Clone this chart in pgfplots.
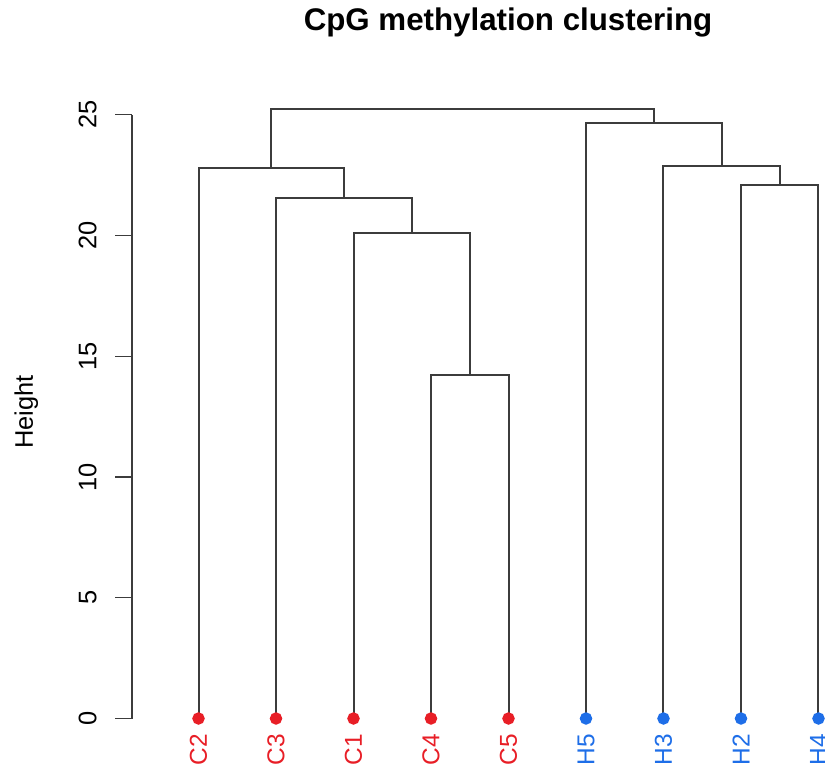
\documentclass[border=0pt]{standalone}
\usepackage{pgfplots}
\pgfplotsset{compat=1.18}
\usepackage{fontspec}
\setmainfont{Liberation Sans}
\definecolor{leafred}{RGB}{232,30,38}
\definecolor{leafblue}{RGB}{30,110,232}
\definecolor{treegray}{RGB}{60,60,60}
\begin{document}
\begin{tikzpicture}
\path[use as bounding box] (-132bp,-49.5bp) rectangle (693bp,718.5bp);
\begin{axis}[
    scale only axis,
    width=693bp, height=603.75bp,
    xmin=0.1419, xmax=9.084,
    ymin=0, ymax=25,
    axis x line=none,
    axis y line*=left,
    clip=false,
    ytick={0,5,10,15,20,25},
    tick align=outside,
    major tick length=16.5bp,
    axis line style={line width=1.4bp, treegray},
    every tick/.style={line width=1.4bp, treegray},
    /pgf/number format/assume math mode=true,
    yticklabel style={font=\fontsize{25.5}{30}\selectfont, xshift=-19bp, rotate=90, anchor=base},
    ylabel={Height},
    ylabel style={font=\fontsize{25.5}{30}\selectfont, at={(rel axis cs:-0.1429,0.5077)}, anchor=base},
    title={\textbf{CpG methylation clustering}},
    title style={font=\fontsize{31.4}{36}\selectfont, at={(rel axis cs:0.5426,1.1304)}, anchor=base},
    every axis plot/.append style={line width=2bp, treegray},
]
% merges: leaves C2=1 C3=2 C1=3 C4=4 C5=5 H5=6 H3=7 H2=8 H4=9
\addplot[mark=none] coordinates {(4,0) (4,14.22) (5,14.22) (5,0)};
\addplot[mark=none] coordinates {(3,0) (3,20.09) (4.5,20.09) (4.5,14.22)};
\addplot[mark=none] coordinates {(2,0) (2,21.54) (3.75,21.54) (3.75,20.09)};
\addplot[mark=none] coordinates {(1,0) (1,22.78) (2.875,22.78) (2.875,21.54)};
\addplot[mark=none] coordinates {(8,0) (8,22.09) (9,22.09) (9,0)};
\addplot[mark=none] coordinates {(7,0) (7,22.89) (8.5,22.89) (8.5,22.09)};
\addplot[mark=none] coordinates {(6,0) (6,24.65) (7.75,24.65) (7.75,22.89)};
\addplot[mark=none] coordinates {(1.9375,22.78) (1.9375,25.24) (6.875,25.24) (6.875,24.65)};
% leaves
\addplot[only marks, mark=*, mark size=5.2bp, leafred, draw=none, fill=leafred,
    nodes near coords, point meta=explicit symbolic,
    every node near coord/.style={yshift=-14.5bp, rotate=90, anchor=east, inner sep=0pt,
        text=leafred, font=\fontsize{24.5}{28}\selectfont}]
    coordinates {(1,0)[C2] (2,0)[C3] (3,0)[C1] (4,0)[C4] (5,0)[C5]};
\addplot[only marks, mark=*, mark size=5.2bp, leafblue, draw=none, fill=leafblue,
    nodes near coords, point meta=explicit symbolic,
    every node near coord/.style={yshift=-14.5bp, rotate=90, anchor=east, inner sep=0pt,
        text=leafblue, font=\fontsize{24.5}{28}\selectfont}]
    coordinates {(6,0)[H5] (7,0)[H3] (8,0)[H2] (9,0)[H4]};
\end{axis}
\end{tikzpicture}
\end{document}
